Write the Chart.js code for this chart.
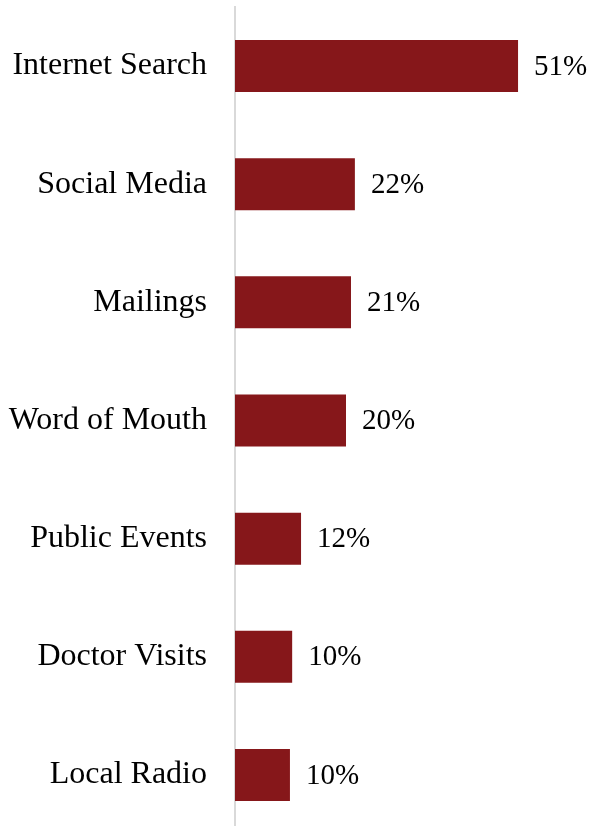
<!DOCTYPE html>
<html>
<head>
<meta charset="utf-8">
<script src="https://cdn.jsdelivr.net/npm/chart.js@4/dist/chart.umd.min.js"></script>
<style>
  html, body { margin: 0; padding: 0; background: #fff; overflow: hidden; }
  canvas { display: block; }
</style>
</head>
<body>
<canvas id="myChart" width="592" height="834"></canvas>
<script>
// datos
const categorias = ['Internet Search', 'Social Media', 'Mailings', 'Word of Mouth', 'Public Events', 'Doctor Visits', 'Local Radio'];
const valores = [51, 21.6, 20.9, 20.0, 11.9, 10.3, 9.9];
const etiquetas = ['51%', '22%', '21%', '20%', '12%', '10%', '10%'];

const fuente = '"Liberation Serif", "Times New Roman", serif';

// plugin para poner el porcentaje al final de cada barra
const etiquetasBarras = {
    id: 'etiquetasBarras',
    afterDatasetsDraw(chart) {
        const ctx = chart.ctx;
        const meta = chart.getDatasetMeta(0);
        ctx.save();
        ctx.font = '29px ' + fuente;
        ctx.fillStyle = '#000';
        ctx.textAlign = 'left';
        ctx.textBaseline = 'middle';
        meta.data.forEach((bar, i) => {
            ctx.fillText(etiquetas[i], bar.x + 16, bar.y + 1);
        });
        ctx.restore();
    }
};

const config = {
    type: 'bar',
    data: {
        labels: categorias,
        datasets: [{
            data: valores,
            backgroundColor: '#86171a',
            borderWidth: 0,
            barPercentage: 0.44,
            categoryPercentage: 1
        }]
    },
    options: {
        indexAxis: 'y',
        responsive: false,
        animation: false,
        devicePixelRatio: 1,
        layout: { padding: { top: 7, right: 24, bottom: 0, left: 0 } },
        plugins: {
            legend: { display: false },
            tooltip: { enabled: false }
        },
        scales: {
            x: {
                display: false,
                min: 0,
                max: 60
            },
            y: {
                afterFit(scale) {
                    scale.width = 235;
                    // sin hueco arriba y abajo por las etiquetas
                    scale.paddingTop = 0;
                    scale.paddingBottom = 0;
                },
                grid: { display: false, drawTicks: false },
                border: { display: true, color: '#d9d9d9', width: 2 },
                ticks: {
                    padding: 28,
                    color: '#000',
                    font: { family: fuente, size: 32 }
                }
            }
        }
    },
    plugins: [etiquetasBarras]
};

const myChart = new Chart(document.getElementById('myChart'), config);
</script>
</body>
</html>
